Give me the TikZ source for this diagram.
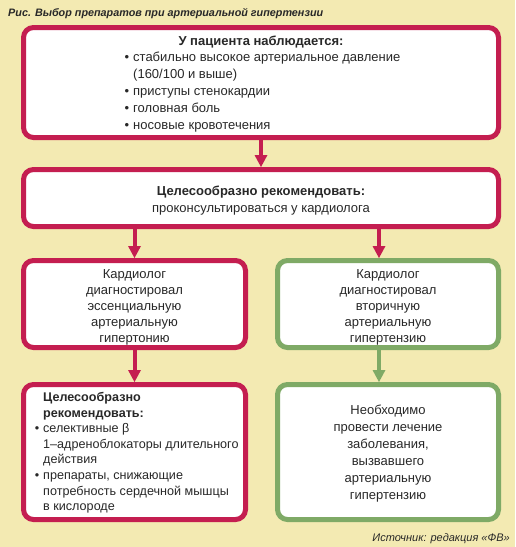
\documentclass[tikz,border=0pt]{standalone}
\usepackage{fontspec}
\setmainfont{Liberation Sans}
\usetikzlibrary{arrows.meta}
\definecolor{bgy}{RGB}{243,234,178}
\definecolor{cred}{RGB}{196,30,80}
\definecolor{cgreen}{RGB}{127,170,102}
\definecolor{txt}{RGB}{40,40,40}
\newcommand{\bul}{\leavevmode\llap{•\hspace{4pt}}}
\tikzset{
  box/.style={draw=#1, line width=5pt, rounded corners=10pt, fill=white, inner sep=0pt},
  ctext/.style={align=center, inner sep=0pt, text=txt, font=\fontsize{13}{#1}\selectfont},
  ltext/.style={anchor=base west, inner sep=0pt, text=txt},
  arr/.style={draw=#1, line width=4pt, -{Triangle[width=13pt,length=12pt,line width=0pt]}}
}
\begin{document}
\begin{tikzpicture}[x=1pt,y=-1pt]
\fill[bgy] (0,0) rectangle (515,547);
\useasboundingbox (0,0) rectangle (515,547);

\node[anchor=base west, inner sep=0pt, text=txt, font=\bfseries\itshape\fontsize{10.8}{13}\selectfont] (title) at (8,16) {Рис. Выбор препаратов при артериальной гипертензии};

% boxes
\node[box=cred, minimum width=475pt, minimum height=110pt] (b1) at (261,82.5) {};
\node[box=cred, minimum width=475pt, minimum height=57pt] (b2) at (261,198) {};
\node[box=cred, minimum width=222pt, minimum height=87pt] (b3) at (134.5,304) {};
\node[box=cgreen, minimum width=221pt, minimum height=87pt] (b4) at (388,304) {};
\node[box=cred, minimum width=222pt, minimum height=135pt] (b5) at (134.5,452) {};
\node[box=cgreen, minimum width=221pt, minimum height=135pt] (b6) at (388,452) {};

% centred texts
\node[ctext=17pt] (t2) at ([yshift=-3pt]b2.center)
  {\textbf{Целесообразно рекомендовать:}\\проконсультироваться у кардиолога};
\node[ctext=16pt] (t3) at ([yshift=-3.5pt]b3.center)
  {Кардиолог\\диагностировал\\эссенциальную\\артериальную\\гипертонию};
\node[ctext=16pt] (t4) at ([yshift=-3.5pt]b4.center)
  {Кардиолог\\диагностировал\\вторичную\\артериальную\\гипертензию};
\node[ctext=17pt] (t6) at ([yshift=-2pt]b6.center)
  {Необходимо\\провести лечение\\заболевания,\\вызвавшего\\артериальную\\гипертензию};

% box 1 text
\node[anchor=base, inner sep=0pt, text=txt, font=\bfseries\fontsize{13}{17}\selectfont] (h1) at (261,45) {У пациента наблюдается:};
\node[ltext] (l1) at (133,61) {\parbox[t]{340pt}{\fontsize{13}{17.2}\selectfont\raggedright
  \bul стабильно высокое артериальное давление\\
  (160/100 и выше)\\
  \bul приступы стенокардии\\
  \bul головная боль\\
  \bul носовые кровотечения}};

% box 5 text
\node[ltext] (l5) at (43,401.5) {\parbox[t]{215pt}{\fontsize{12.6}{15.6}\selectfont\raggedright
  \textbf{Целесообразно}\\
  \textbf{рекомендовать:}\\
  \bul селективные β\\
  1–адреноблокаторы длительного\\
  действия\\
  \bul препараты, снижающие\\
  потребность сердечной мышцы\\
  в кислороде}};

% arrows
\coordinate (c3) at (b3.north);
\coordinate (c4) at ([xshift=-9pt]b4.north);
\coordinate (c6) at ([xshift=-9pt]b6.north);
\draw[arr=cred] (b1.south) -- (b2.north);
\draw[arr=cred] (c3 |- b2.south) -- (c3);
\draw[arr=cred] (c4 |- b2.south) -- (c4);
\draw[arr=cred] (b3.south) -- (b5.north);
\draw[arr=cgreen] (c4 |- b4.south) -- (c6);

\node[anchor=base east, inner sep=0pt, text=txt, font=\itshape\fontsize{11}{13}\selectfont] (src) at (510,541) {Источник: редакция «ФВ»};
\end{tikzpicture}
\end{document}
